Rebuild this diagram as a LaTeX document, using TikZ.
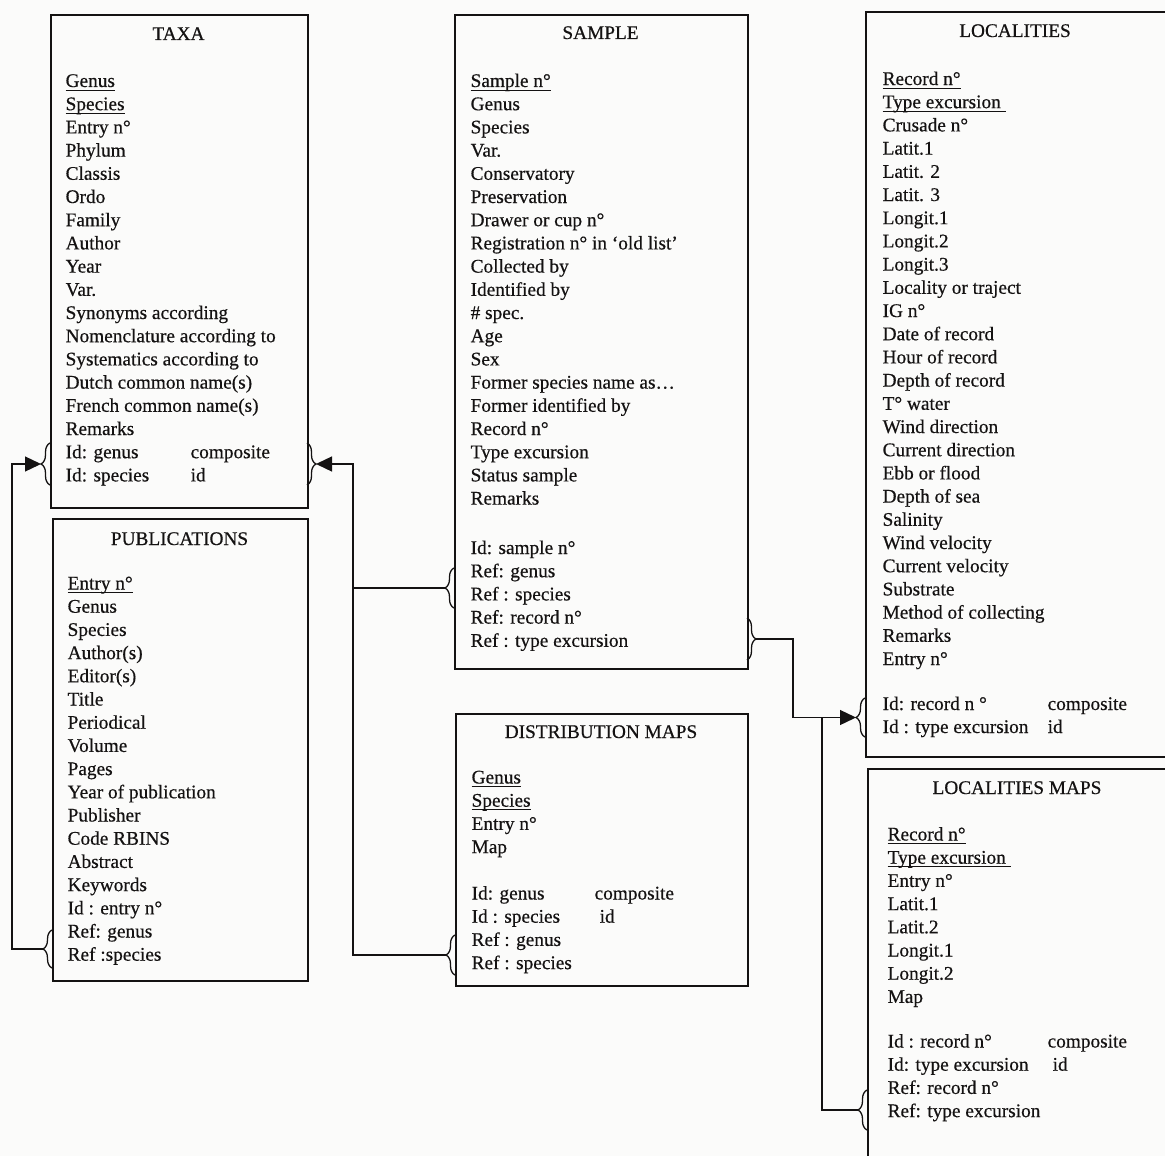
\documentclass[tikz,border=0pt]{standalone}
\usepackage{fontspec}
\setmainfont{Liberation Serif}[FakeBold=0.5]
\usetikzlibrary{arrows.meta}
\usetikzlibrary{decorations.pathreplacing}

\definecolor{paper}{RGB}{251,251,250}
\definecolor{ink}{RGB}{20,18,18}
\newcommand\keyul[1]{\sbox0{#1}\rlap{\rule[-3.5pt]{\wd0}{1pt}}\usebox0}

\begin{document}
\begin{tikzpicture}[x=1pt, y=-1pt, color=ink, line width=1.3pt,
	font=\fontsize{19.3}{23}\selectfont,
	ref/.style={-{Triangle[length=16pt,width=15pt]}},
	table/.style={draw, line width=1.7pt, anchor=north west, inner sep=0pt},
	title/.style={anchor=base, inner sep=0pt},
	field/.style={anchor=base west, inner sep=0pt},
	brace/.style={decorate, decoration={brace, amplitude=9pt}}]
	\useasboundingbox (0,0) rectangle (1165,1156);
	\clip (0,0) rectangle (1165,1156);
	\fill[paper] (0,0) rectangle (1165,1156);

	% TAXA
	\node[table, minimum width=257pt, minimum height=493pt] (T) at (50,14) {};
	\node[title] (T-t) at (178.5,40) {TAXA};
	\foreach \f [count=\i from 0] in {\keyul{Genus}, \keyul{Species}, Entry n°, Phylum, Classis, Ordo, Family, Author, Year, Var., Synonyms according, Nomenclature according to, Systematics according to, Dutch common name(s), French common name(s), Remarks, Id: genus, Id: species}
		\node[field] (T-\i) at (65,87+23.2*\i) {\f};
	\node[field] (T-c) at (190,87+23.2*16) {composite};
	\node[field] (T-d) at (190,87+23.2*17) {id};

	% SAMPLE
	\node[table, minimum width=293pt, minimum height=654pt] (S) at (454,14) {};
	\node[title] (S-t) at (600.5,39) {SAMPLE};
	\foreach \f [count=\i from 0] in {\keyul{Sample n°}, Genus, Species, Var., Conservatory, Preservation, Drawer or cup n°, Registration n° in ‘old list’, Collected by, Identified by, \# spec., Age, Sex, Former species name as…, Former identified by, Record n°, Type excursion, Status sample, Remarks}
		\node[field] (S-\i) at (470,87+23.2*\i) {\f};
	\foreach \f [count=\i from 0] in {Id: sample n°, Ref: genus, Ref : species, Ref: record n°, Ref : type excursion}
		\node[field] (S-k\i) at (470,554+23.2*\i) {\f};

	% LOCALITIES
	\node[table, minimum width=305pt, minimum height=745pt] (L) at (865,11) {};
	\node[title] (L-t) at (1015,37) {LOCALITIES};
	\foreach \f [count=\i from 0] in {\keyul{Record n°}, \keyul{Type excursion\ }, Crusade n°, Latit.1, Latit. 2, Latit. 3, Longit.1, Longit.2, Longit.3, Locality or traject, IG n°, Date of record, Hour of record, Depth of record, T° water, Wind direction, Current direction, Ebb or flood, Depth of sea, Salinity, Wind velocity, Current velocity, Substrate, Method of collecting, Remarks, Entry n°}
		\node[field] (L-\i) at (882,85+23.2*\i) {\f};
	\node[field] (L-k0) at (882,710) {Id: record n °};
	\node[field] (L-k1) at (882,733) {Id : type excursion};
	\node[field] (L-c) at (1047,710) {composite};
	\node[field] (L-d) at (1047,733) {id};

	% PUBLICATIONS
	\node[table, minimum width=255pt, minimum height=462pt] (P) at (52,518) {};
	\node[title] (P-t) at (179.5,545) {PUBLICATIONS};
	\foreach \f [count=\i from 0] in {\keyul{Entry n°}, Genus, Species, Author(s), Editor(s), Title, Periodical, Volume, Pages, Year of publication, Publisher, Code RBINS, Abstract, Keywords, Id : entry n°, Ref: genus, Ref :species}
		\node[field] (P-\i) at (67,589.5+23.2*\i) {\f};

	% DISTRIBUTION MAPS
	\node[table, minimum width=292pt, minimum height=272pt] (D) at (455,713) {};
	\node[title] (D-t) at (601,738) {DISTRIBUTION MAPS};
	\foreach \f [count=\i from 0] in {\keyul{Genus}, \keyul{Species}, Entry n°, Map}
		\node[field] (D-\i) at (471,783.5+23.2*\i) {\f};
	\foreach \f [count=\i from 0] in {Id: genus, Id : species, Ref : genus, Ref : species}
		\node[field] (D-k\i) at (471,899.5+23.2*\i) {\f};
	\node[field] (D-c) at (594,899.5) {composite};
	\node[field] (D-d) at (599,922.7) {id};

	% LOCALITIES MAPS
	\node[table, minimum width=303pt, minimum height=402pt] (M) at (867,768) {};
	\node[title] (M-t) at (1017,794) {LOCALITIES MAPS};
	\foreach \f [count=\i from 0] in {\keyul{Record n°}, \keyul{Type excursion\ }, Entry n°, Latit.1, Latit.2, Longit.1, Longit.2, Map}
		\node[field] (M-\i) at (887,840.5+23.2*\i) {\f};
	\foreach \f [count=\i from 0] in {Id : record n°, Id: type excursion, Ref: record n°, Ref: type excursion}
		\node[field] (M-k\i) at (887,1047.5+23.2*\i) {\f};
	\node[field] (M-c) at (1047,1047.5) {composite};
	\node[field] (M-d) at (1052,1070.7) {id};

	% key braces
	\draw[brace] (50,485) -- (50,443);
	\draw[brace] (307,443) -- (307,485);
	\draw[brace] (52,968) -- (52,930);
	\draw[brace] (454,608) -- (454,568);
	\draw[brace] (455,975) -- (455,935);
	\draw[brace] (747,618) -- (747,660);
	\draw[brace] (865,737) -- (865,698);
	\draw[brace] (867,1130) -- (867,1090);
	\coordinate (T-l) at (41,464);
	\coordinate (T-r) at (316,464);
	\coordinate (P-l) at (43,949);
	\coordinate (S-l) at (445,588);
	\coordinate (D-l) at (446,955);
	\coordinate (S-r) at (756,639);
	\coordinate (L-l) at (856,717.5);
	\coordinate (M-l) at (858,1110);
	\coordinate (J) at (353,588);
	\coordinate (K) at (822,717.5);

	% links
	\draw[ref] (P-l) -- ++(-31,0) |- (T-l);
	\draw[ref] (D-l) -- ++(-93,0) |- (T-r);
	\draw (S-l) -- (J);
	\draw[ref] (S-r) -- ++(37,0) |- (L-l);
	\draw (M-l) -| (K);
\end{tikzpicture}
\end{document}
